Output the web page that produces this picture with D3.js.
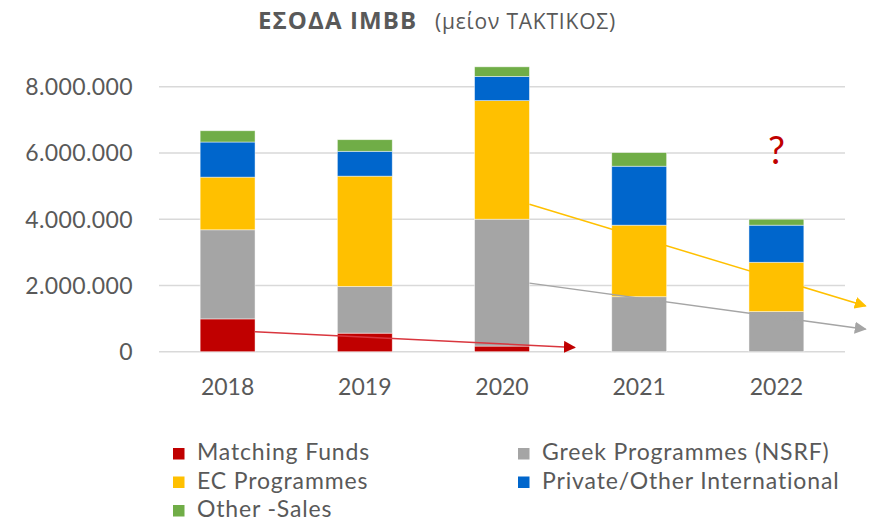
<!DOCTYPE html>
<html>
<head>
<meta charset="utf-8">
<script src="https://cdn.jsdelivr.net/npm/d3@7"></script>
<style>
  body { margin: 0; background: #fff; }
  svg { display: block; }
</style>
</head>
<body>
<svg width="882" height="524"></svg>
<script>
var years = ["2018", "2019", "2020", "2021", "2022"];
var seriesNames = ["Matching Funds", "Greek Programmes (NSRF)", "EC Programmes", "Private/Other International", "Other -Sales"];
var matchingFunds = [990000, 560000, 170000, 0, 0];
var greekProgrammes = [2690000, 1410000, 3830000, 1660000, 1210000];
var ecProgrammes = [1590000, 3330000, 3580000, 2160000, 1490000];
var privateOther = [1060000, 750000, 730000, 1780000, 1120000];
var otherSales = [340000, 350000, 290000, 410000, 180000];
var yTicks = [0, 2000000, 4000000, 6000000, 8000000];

// trend arrows: position given as year index (fractional) and value
var arrows = [
  {from: [0.2, 600000], to: [2.53, 130000], color: "#D9363E", head: "#C00000"},
  {from: [2.2, 2070000], to: [4.65, 680000], color: "#A5A5A5", head: "#A5A5A5"},
  {from: [2.2, 4450000], to: [4.65, 1380000], color: "#FFC000", head: "#FFC000"}
];
var questionMark = {year: 4, value: 5660000, text: "?"};

var colors = ["#C00000", "#A5A5A5", "#FFC000", "#0066CC", "#70AD47"];
var values = [matchingFunds, greekProgrammes, ecProgrammes, privateOther, otherSales];

var svg = d3.select("svg");

var rows = years.map(function(y, i) {
  var r = {year: y};
  seriesNames.forEach(function(s, j) { r[s] = values[j][i]; });
  return r;
});

var stack = d3.stack().keys(seriesNames);
var layers = stack(rows);

var x = d3.scaleBand()
    .domain(years)
    .range([159, 845])
    .paddingInner(0.6)
    .paddingOuter(0.3);

var y = d3.scaleLinear()
    .domain([0, 8000000])
    .range([351.7, 86.7]);

var xPos = d3.scaleLinear()
    .domain([0, years.length - 1])
    .range([x(years[0]) + x.bandwidth() / 2, x(years[years.length - 1]) + x.bandwidth() / 2]);

var fmt = d3.formatLocale({decimal: ",", thousands: ".", grouping: [3], currency: ["", ""]}).format(",");

// title
var title = svg.append("text")
    .attr("x", 258)
    .attr("y", 28.5)
    .attr("fill", "#595959")
    .style("font-family", "'Open Sans', sans-serif");
title.append("tspan")
    .attr("font-weight", "bold")
    .attr("font-size", 24)
    .attr("letter-spacing", 1.1)
    .text("ΕΣΟΔΑ IMBB");
title.append("tspan")
    .attr("x", 435)
    .attr("font-size", 21)
    .attr("letter-spacing", 0.8)
    .text("(μείον ΤΑΚΤΙΚΟΣ)");

// gridlines
svg.append("g")
  .selectAll("line")
  .data(yTicks)
  .enter().append("line")
    .attr("x1", 159)
    .attr("x2", 845)
    .attr("y1", function(d) { return y(d); })
    .attr("y2", function(d) { return y(d); })
    .attr("stroke", "#D9D9D9")
    .attr("stroke-width", 1.5);

// y axis labels
svg.append("g")
  .selectAll("text")
  .data(yTicks)
  .enter().append("text")
    .attr("x", 133)
    .attr("y", function(d) { return y(d) + 8.5; })
    .attr("text-anchor", "end")
    .attr("fill", "#595959")
    .attr("letter-spacing", 0.4)
    .style("font-family", "Lato, sans-serif")
    .style("font-size", "23px")
    .text(function(d) { return fmt(d); });

// x axis labels
svg.append("g")
  .selectAll("text")
  .data(years)
  .enter().append("text")
    .attr("x", function(d) { return x(d) + x.bandwidth() / 2; })
    .attr("y", 395)
    .attr("text-anchor", "middle")
    .attr("fill", "#595959")
    .style("font-family", "Lato, sans-serif")
    .style("font-size", "23px")
    .text(function(d) { return d; });

// bars
var layer = svg.append("g")
  .selectAll("g")
  .data(layers)
  .enter().append("g")
    .attr("fill", function(d, i) { return colors[i]; });

layer.selectAll("rect")
  .data(function(d) { return d; })
  .enter().append("rect")
    .attr("x", function(d) { return x(d.data.year); })
    .attr("y", function(d) { return y(d[1]); })
    .attr("width", x.bandwidth())
    .attr("height", function(d) { return y(d[0]) - y(d[1]); })
    .attr("stroke", "#fff")
    .attr("stroke-opacity", 0.6)
    .attr("stroke-width", 0.75);

// arrows
var defs = svg.append("defs");
arrows.forEach(function(a, i) {
  defs.append("marker")
      .attr("id", "head" + i)
      .attr("viewBox", "0 0 10 10")
      .attr("refX", 9)
      .attr("refY", 5)
      .attr("markerWidth", 8)
      .attr("markerHeight", 8)
      .attr("markerUnits", "strokeWidth")
      .attr("orient", "auto")
    .append("path")
      .attr("d", "M0,0L10,5L0,10Z")
      .attr("fill", a.head);
});

svg.append("g")
  .selectAll("line")
  .data(arrows)
  .enter().append("line")
    .attr("x1", function(d) { return xPos(d.from[0]); })
    .attr("y1", function(d) { return y(d.from[1]); })
    .attr("x2", function(d) { return xPos(d.to[0]); })
    .attr("y2", function(d) { return y(d.to[1]); })
    .attr("stroke", function(d) { return d.color; })
    .attr("stroke-width", 1.5)
    .attr("marker-end", function(d, i) { return "url(#head" + i + ")"; });

svg.append("text")
    .attr("x", xPos(questionMark.year))
    .attr("y", y(questionMark.value))
    .attr("text-anchor", "middle")
    .attr("fill", "#C00000")
    .style("font-family", "Lato, sans-serif")
    .style("font-size", "38px")
    .text(questionMark.text);

// legend
var legend = svg.append("g")
  .selectAll("g")
  .data(seriesNames)
  .enter().append("g")
    .attr("transform", function(d, i) {
      return "translate(" + (i % 2 === 0 ? 173 : 518) + "," + (460 + Math.floor(i / 2) * 28.5) + ")";
    });

legend.append("rect")
    .attr("x", 0)
    .attr("y", -12)
    .attr("width", 11.5)
    .attr("height", 11.5)
    .attr("fill", function(d, i) { return colors[i]; });

legend.append("text")
    .attr("x", 24)
    .attr("y", 0)
    .attr("fill", "#595959")
    .attr("letter-spacing", 0.85)
    .style("font-family", "Lato, sans-serif")
    .style("font-size", "23px")
    .text(function(d) { return d; });
</script>
</body>
</html>
